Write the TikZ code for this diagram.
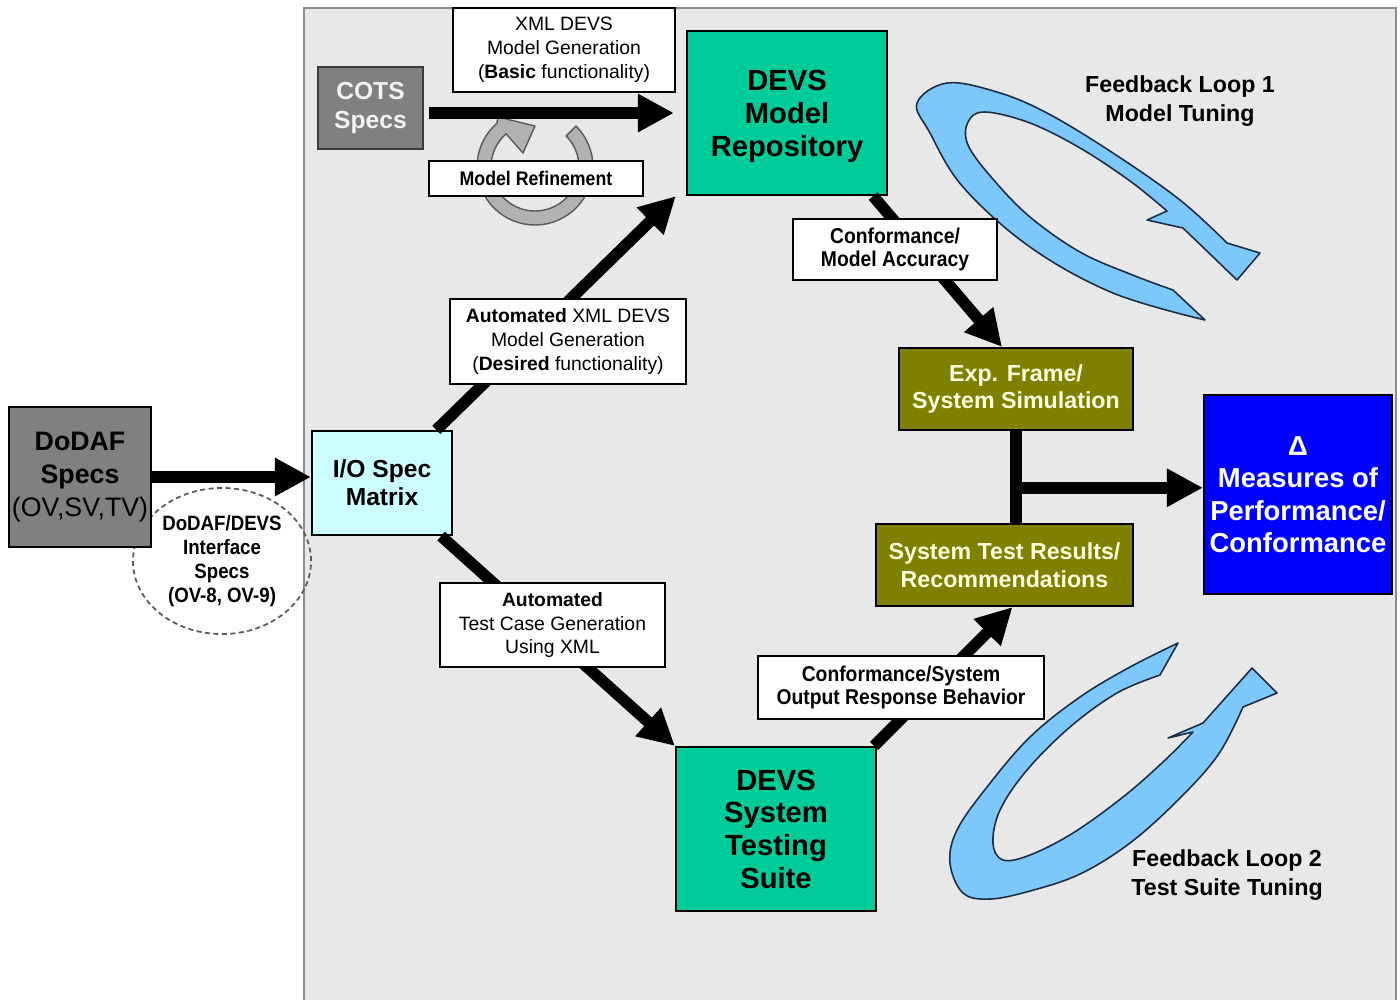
\documentclass[tikz,border=0pt]{standalone}
\usepackage{fontspec}
\setmainfont{Liberation Sans}
\newfontfamily\narrowfont[FakeStretch=0.9]{Liberation Sans}
\usetikzlibrary{arrows.meta,shapes.geometric,calc}

\definecolor{panelgray}{RGB}{232,232,232}
\definecolor{panelline}{RGB}{140,140,150}
\definecolor{boxgray}{RGB}{128,128,128}
\definecolor{iocyan}{RGB}{204,255,255}
\definecolor{devsteal}{RGB}{0,204,153}
\definecolor{simolive}{RGB}{128,128,0}
\definecolor{mopblue}{RGB}{0,0,255}
\definecolor{creamtext}{RGB}{255,255,222}
\definecolor{cotstext}{RGB}{242,242,242}
\definecolor{ringgray}{RGB}{178,178,178}
\definecolor{ringline}{RGB}{90,90,90}
\definecolor{loopblue}{RGB}{125,200,250}
\definecolor{loopline}{RGB}{30,45,70}

\begin{document}
\begin{tikzpicture}[x=0.01cm,y=-0.01cm,
  box/.style={draw=black, line width=0.6pt, inner sep=0pt, align=center},
  lab/.style={draw=black, fill=white, line width=0.5pt, inner sep=0pt, align=center,
    font=\fontsize{5.5pt}{6.8pt}\selectfont},
  narrowlab/.style={lab, font=\narrowfont\bfseries\fontsize{6.1pt}{6.6pt}\selectfont},
  flow/.style={line width=0.115cm, -{Triangle[length=0.36cm,width=0.36cm]}},
  fbloop/.style={fill=loopblue, draw=loopline, line width=0.45pt, line join=round},
  ringstyle/.style={fill=ringgray, draw=ringline, line width=0.4pt, line join=round},
  fbtext/.style={align=center, font=\bfseries\fontsize{6.6pt}{8pt}\selectfont}
]
\clip (0,0) rectangle (1400,999);
\fill[white] (0,0) rectangle (1400,999);

% grey working panel
\draw[fill=panelgray, draw=panelline, line width=0.6pt] (304,8) rectangle (1396,1010);

% feedback loop 1 (model tuning)
\draw[fbloop] (1205,320) -- (1173,290)
  -- plot[smooth, tension=0.6] coordinates {(1173,290) (1130,274) (1080,252) (1030,217)
     (992,178) (968,145) (968,122) (985,112) (1030,123) (1080,148) (1130,181) (1167,211)}
  -- (1147,220) -- (1183,228) -- (1237,280) -- (1260,253) -- (1227,243)
  -- plot[smooth, tension=0.6] coordinates {(1227,243) (1180,200) (1113,153) (1047,113)
     (997,92) (947,83) (917,103) (930,133) (963,187) (1030,247) (1113,293) (1205,320)}
  -- cycle;

% feedback loop 2 (test suite tuning)
\draw[fbloop] (1178,643) -- (1160,675)
  -- plot[smooth, tension=0.6] coordinates {(1160,675) (1117,693) (1070,727) (1027,770)
     (1000,810) (993,843) (1003,860) (1030,855) (1073,833) (1123,797) (1163,762) (1193,732)}
  -- (1168,738) -- (1203,723) -- (1252,668) -- (1277,693) -- (1243,707)
  -- plot[smooth, tension=0.6] coordinates {(1243,707) (1218,755) (1178,800) (1130,843)
     (1080,874) (1030,891) (990,899) (963,893) (950,863) (957,830) (987,787) (1030,737)
     (1080,697) (1130,667) (1178,643)}
  -- cycle;

% model refinement circular arrow
\draw[ringstyle] plot[domain=-45:229, samples=50] ({535+58*cos(\x)},{167+58*sin(\x)})
  -- (498,117) -- (535,126) -- (523,153)
  -- plot[domain=229:-45, samples=50] ({535+44*cos(\x)},{167+44*sin(\x)}) -- cycle;

% interface specs ellipse
\node[ellipse, draw={rgb,255:red,90;green,90;blue,90}, line width=0.5pt,
  dash pattern=on 0.05cm off 0.035cm, inner sep=0pt,
  minimum width=1.78cm, minimum height=1.46cm, align=center,
  font=\narrowfont\bfseries\fontsize{5.9pt}{6.8pt}\selectfont] (iface) at (222,561)
  {DoDAF/DEVS\\Interface\\Specs\\(OV-8, OV-9)};

% main boxes
\node[box, fill=boxgray, minimum width=1.42cm, minimum height=1.40cm,
  font=\fontsize{7.6pt}{9.4pt}\selectfont] (dodaf) at (80,477)
  {\textbf{DoDAF}\\\textbf{Specs}\\(OV,SV,TV)};
\node[box, fill=boxgray, draw={rgb,255:red,60;green,60;blue,60}, minimum width=1.05cm,
  minimum height=0.82cm, text=cotstext, font=\bfseries\fontsize{7pt}{8pt}\selectfont]
  (cots) at (370.5,108) {COTS\\Specs};
\node[box, fill=iocyan, minimum width=1.40cm, minimum height=1.04cm,
  font=\bfseries\fontsize{7pt}{8pt}\selectfont] (io) at (382,483) {I/O Spec\\Matrix};
\node[box, fill=devsteal, minimum width=2.0cm, minimum height=1.64cm, text depth=0pt,
  font=\bfseries\fontsize{8.3pt}{9.4pt}\selectfont] (repo) at (787,113)
  {DEVS\\Model\\Repository};
\node[box, fill=devsteal, minimum width=2.0cm, minimum height=1.64cm,
  font=\bfseries\fontsize{8.3pt}{9.3pt}\selectfont] (suite) at (776,829)
  {DEVS\\System\\Testing\\Suite};
\node[box, fill=simolive, minimum width=2.34cm, minimum height=0.82cm, text=creamtext,
  font=\bfseries\fontsize{6.6pt}{7.7pt}\selectfont] (exp) at (1016,389)
  {Exp. Frame/\\System Simulation};
\node[box, fill=simolive, minimum width=2.57cm, minimum height=0.82cm, text=creamtext,
  font=\bfseries\fontsize{6.6pt}{7.9pt}\selectfont] (results) at (1004.5,565)
  {System Test Results/\\Recommendations};
\node[box, fill=mopblue, minimum width=1.88cm, minimum height=1.99cm, text=white,
  font=\bfseries\fontsize{7.8pt}{9.25pt}\selectfont] (meas) at (1298,494.5)
  {Δ\\Measures of\\Performance/\\Conformance};

% flow arrows
\draw[flow] (dodaf.east) -- (dodaf.east -| io.west);
\draw[flow] ([xshift=0.05cm]cots.east |- repo.west) -- ([xshift=-0.12cm]repo.west);
\draw[flow] (io) -- ([xshift=-0.1cm]repo.south west);
\draw[flow] (io) -- (suite.north west);
\draw[flow] ([xshift=-0.15cm]repo.south east) -- ([xshift=-0.14cm]exp.north);
\draw[flow] ([xshift=-0.03cm]suite.north east) -- ([xshift=0.08cm]results.south);
\draw[line width=0.115cm] (exp.south) -- (exp.south |- results.north);
\coordinate (j) at ($(exp.south)!0.617!(exp.south |- results.north)$);
\draw[flow] (j) -- (j -| meas.west);

% connector labels
\node[lab, minimum width=2.22cm, minimum height=0.84cm] (gen) at (564,50)
  {XML DEVS\\Model Generation\\(\textbf{Basic} functionality)};
\node[narrowlab, font=\narrowfont\bfseries\fontsize{5.6pt}{6.6pt}\selectfont,
  minimum width=2.14cm, minimum height=0.35cm] (refine) at (536,178.5) {Model Refinement};
\node[lab, minimum width=2.36cm, minimum height=0.85cm] (autogen) at (568,341.5)
  {\textbf{Automated} XML DEVS\\Model Generation\\(\textbf{Desired} functionality)};
\node[lab, minimum width=2.25cm, minimum height=0.84cm] (autotest) at (552.5,625)
  {\textbf{Automated}\\Test Case Generation\\Using XML};
\node[narrowlab, minimum width=2.04cm, minimum height=0.61cm] (accuracy) at (895,249.5)
  {Conformance/\\Model Accuracy};
\node[narrowlab, minimum width=2.86cm, minimum height=0.63cm] (response) at (901,687.5)
  {Conformance/System\\Output Response Behavior};

% feedback loop captions
\node[fbtext] (fb1) at (1180,101) {Feedback Loop 1\\Model Tuning};
\node[fbtext] (fb2) at (1227,875) {Feedback Loop 2\\Test Suite Tuning};
\end{tikzpicture}
\end{document}
